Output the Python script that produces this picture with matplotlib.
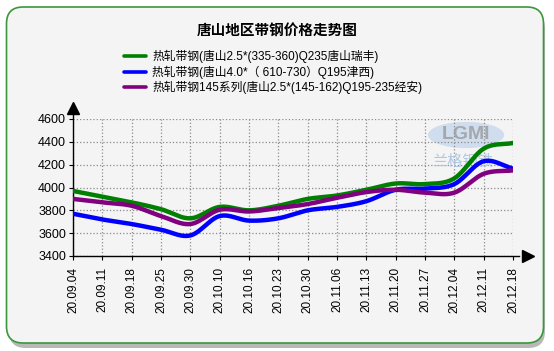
import matplotlib
matplotlib.use("Agg")
import matplotlib.pyplot as plt
from matplotlib.patches import FancyBboxPatch, Ellipse
import numpy as np

plt.rcParams['font.family'] = ['Liberation Sans', 'Noto Sans CJK SC', 'DejaVu Sans']

# data
dates = ['20.09.04', '20.09.11', '20.09.18', '20.09.25', '20.09.30', '20.10.10',
         '20.10.16', '20.10.23', '20.10.30', '20.11.06', '20.11.13', '20.11.20',
         '20.11.27', '20.12.04', '20.12.11', '20.12.18']
ruifeng = [3970, 3920, 3870, 3810, 3730, 3830, 3800, 3840, 3900, 3930, 3980, 4035,
           4030, 4080, 4340, 4390]
jinxi = [3770, 3720, 3680, 3630, 3580, 3750, 3710, 3730, 3800, 3830, 3880, 3980,
         3990, 4030, 4230, 4165]
jingan = [3900, 3870, 3840, 3750, 3680, 3805, 3790, 3820, 3855, 3910, 3960, 3980,
          3955, 3955, 4120, 4150]
labels = ['热轧带钢(唐山2.5*(335-360)Q235唐山瑞丰)',
          '热轧带钢(唐山4.0*（ 610-730）Q195津西)',
          '热轧带钢145系列(唐山2.5*(145-162)Q195-235经安)']
colors = ['#008000', '#0000ff', '#800080']
yticks = [3400, 3600, 3800, 4000, 4200, 4400, 4600]


def smooth(y, n=24):
    # catmull-rom style cubic hermite through the points
    y = np.asarray(y, dtype=float)
    m = np.gradient(y)
    xs, ys = [], []
    for i in range(len(y) - 1):
        t = np.linspace(0, 1, n, endpoint=False)
        h00 = 2 * t**3 - 3 * t**2 + 1
        h10 = t**3 - 2 * t**2 + t
        h01 = -2 * t**3 + 3 * t**2
        h11 = t**3 - t**2
        xs.append(i + t)
        ys.append(h00 * y[i] + h10 * m[i] + h01 * y[i + 1] + h11 * m[i + 1])
    xs.append([len(y) - 1])
    ys.append([y[-1]])
    return np.concatenate(xs), np.concatenate(ys)


fig = plt.figure(figsize=(5.54, 3.51), dpi=100)
fig.patch.set_facecolor('white')

# panel with shadow
W, H = 554, 351
shadow = FancyBboxPatch((9 / W, 3 / H), 536 / W, 336 / H,
                        boxstyle="round,pad=0,rounding_size=0.03",
                        transform=fig.transFigure, facecolor='#b8b8b8',
                        edgecolor='none', zorder=-3, mutation_aspect=W / H)
fig.patches.append(shadow)
panel = FancyBboxPatch((6.5 / W, 8 / H), 537 / W, 336 / H,
                       boxstyle="round,pad=0,rounding_size=0.03",
                       transform=fig.transFigure, facecolor='#f4f4f4',
                       edgecolor='#3c963c', linewidth=1.2, zorder=-2,
                       mutation_aspect=W / H)
fig.patches.append(panel)

ax = fig.add_axes([73 / W, 1 - 256 / H, 440 / W, 137 / H])
ax.set_facecolor('none')

x = np.arange(len(dates))
for vals, c, lab in zip([ruifeng, jinxi, jingan], colors, labels):
    sx, sy = smooth(vals)
    ax.plot(sx, sy, color=c, lw=3.2, label=lab, solid_capstyle='round', zorder=3)

ax.set_xlim(0, len(dates) - 1)
ax.set_ylim(3400, 4600)
ax.set_xticks(x)
ax.set_xticklabels(dates, rotation=90, fontsize=8.5)
ax.set_yticks(yticks)
ax.set_yticklabels([str(v) for v in yticks], fontsize=9)
ax.tick_params(axis='both', length=3, width=0.8, pad=2)
ax.tick_params(axis='x', pad=5)
ax.grid(True, color='#8c8c8c', linestyle=':', linewidth=0.9)
for s in ['top', 'right']:
    ax.spines[s].set_visible(False)
for s in ['left', 'bottom']:
    ax.spines[s].set_linewidth(1.0)
    ax.spines[s].set_color('black')
ax.spines['bottom'].set_bounds(0, 15.2)
ax.spines['left'].set_bounds(3400, 4690)

# axis arrows
ax.plot([len(dates) - 1 + 0.5], [3400], marker='>', color='black', ms=8,
        clip_on=False, zorder=5)
ax.plot([0], [4700], marker='^', color='black', ms=8, clip_on=False, zorder=5)

# watermark
ax.add_patch(Ellipse((13.4, 4460), 2.6, 230, facecolor='#c6d8ee', edgecolor='none',
                     alpha=0.8, zorder=1, clip_on=False))
ax.text(13.4, 4460, 'LGMI', ha='center', va='center', fontsize=14, fontweight='bold',
        color='#9a9a9a', alpha=0.8, zorder=2)
ax.text(13.3, 4230, '兰格钢铁', ha='center', va='center', fontsize=11,
        color='#a9c2e0', alpha=0.9, zorder=2, style='italic')

fig.text(277 / W, 1 - 31 / H, '唐山地区带钢价格走势图', ha='center', va='center',
         fontsize=10.5, fontweight='bold')

leg = ax.legend(loc='upper left', bbox_to_anchor=(124 / W, 1 - 50 / H),
                bbox_transform=fig.transFigure, frameon=False, fontsize=8.5,
                handlelength=1.9, handletextpad=0.5, labelspacing=0.2,
                borderpad=0, borderaxespad=0)
for h in leg.get_lines():
    h.set_linewidth(2.6)

fig.savefig('out.png', dpi=100, facecolor='white')
